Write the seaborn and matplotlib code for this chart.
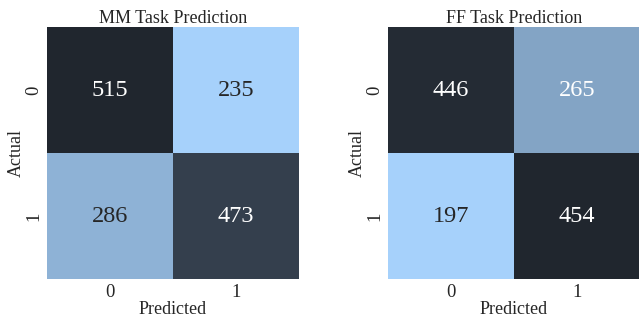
import numpy as np
import pandas as pd
import matplotlib
matplotlib.use("Agg")
import matplotlib.pyplot as plt
import seaborn as sns

# Confusion matrices (rows: actual, columns: predicted)
labels = ["0", "1"]
mm_counts = [[515, 235],
             [286, 473]]
ff_counts = [[446, 265],
             [197, 454]]
titles = ["MM Task Prediction", "FF Task Prediction"]

sns.set_theme(style="white")
plt.rcParams["font.family"] = ["Liberation Serif", "DejaVu Serif"]

# light blue for low counts, near-black slate for high counts
cmap = sns.blend_palette(["#a6d1fb", "#20262e"], as_cmap=True)

fig = plt.figure(figsize=(6.39, 3.2), dpi=100)
W, H = 639, 320
boxes = [(47, 27, 252, 252), (388, 27, 252, 252)]

for (x, y, w, h), counts, title in zip(boxes, [mm_counts, ff_counts], titles):
    ax = fig.add_axes([x / W, 1 - (y + h) / H, w / W, h / H])
    df = pd.DataFrame(counts, index=labels, columns=labels)
    sns.heatmap(df, ax=ax, annot=True, fmt="d", cmap=cmap, cbar=False,
                square=True, annot_kws={"fontsize": 17.5})
    ax.set_title(title, fontsize=13, pad=3)
    ax.set_xlabel("Predicted", fontsize=13, labelpad=0)
    ax.set_ylabel("Actual", fontsize=13, labelpad=0)
    ax.tick_params(axis="both", labelsize=13.5, length=2.5, pad=1)
    ax.tick_params(axis="y", rotation=90)

fig.savefig("out.png", dpi=100)
